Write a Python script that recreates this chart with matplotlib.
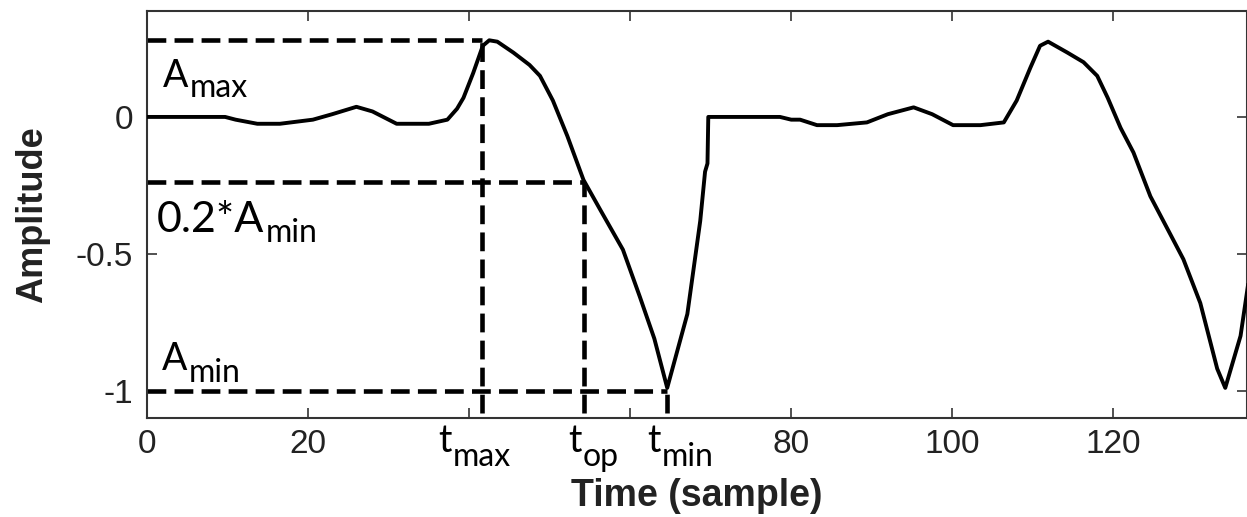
import matplotlib
matplotlib.use("Agg")
import matplotlib.pyplot as plt

plt.rcParams['axes.unicode_minus'] = False

# Signal (time in samples, amplitude)
time = [0, 9.7, 11, 13.7, 16.5, 20.6, 23, 26, 28, 31, 35, 37.3, 38.5, 39.3, 40.5, 41.7,
        42.5, 43.5, 45.5, 47.5, 48.8, 50.4, 52.2, 54.2, 56.3, 59.1, 61.2, 63, 64.6, 67.1,
        68.7, 69.3, 69.6, 69.7, 78.6, 80, 81.1, 83.2, 85.7, 89.4, 92, 95.2, 97.5, 100.1,
        103.5, 106.4, 108.0, 109.7, 110.9, 111.9, 114.3, 116.3, 118, 119.3, 120.9, 122.5,
        124.6, 127.1, 128.7, 130.8, 132.9, 133.9, 135.8, 136.8]
amplitude = [0, 0, -0.01, -0.025, -0.025, -0.01, 0.01, 0.037, 0.02, -0.025, -0.025, -0.01,
             0.03, 0.07, 0.16, 0.26, 0.28, 0.275, 0.235, 0.19, 0.15, 0.06, -0.07, -0.23,
             -0.34, -0.485, -0.657, -0.81, -0.99, -0.72, -0.38, -0.2, -0.17, 0.0, 0.0, -0.01,
             -0.01, -0.03, -0.03, -0.02, 0.01, 0.035, 0.01, -0.03, -0.03, -0.02, 0.06, 0.18,
             0.26, 0.275, 0.235, 0.2, 0.15, 0.07, -0.04, -0.13, -0.29, -0.43, -0.52, -0.68,
             -0.92, -0.99, -0.80, -0.6]

# Reference levels and times
A_max = 0.28
A_op = -0.238
A_min = -1.0
t_max = 41.6
t_op = 54.3
t_min = 64.6

x_ticks = [0, 20, 40, 60, 80, 100, 120]
x_ticklabels = ["0", "20", "", "", "80", "100", "120"]
y_ticks = [-1, -0.5, 0]
y_ticklabels = ["-1", "-0.5", "0"]

fig = plt.figure(figsize=(12.47, 5.17), dpi=100)
ax = fig.add_axes([0.1179, 0.1915, 0.8821, 0.7872])

ax.plot(time, amplitude, color='black', lw=2.8, solid_joinstyle='round', zorder=3)

lw_d = 3.3
dash = (0, (4.1, 1.8))
ybot = -1.08
for lvl, t in [(A_max, t_max), (A_op, t_op), (A_min, t_min)]:
    ax.plot([0, t], [lvl, lvl], color='black', lw=lw_d, linestyle=dash, zorder=2)
    ax.plot([t, t], [ybot, lvl], color='black', lw=lw_d, linestyle=dash, zorder=2)

ax.set_xlim(0, 136.6)
ax.set_ylim(-1.1, 0.387)
ax.set_xticks(x_ticks)
ax.set_xticklabels(x_ticklabels)
ax.set_yticks(y_ticks)
ax.set_yticklabels(y_ticklabels)

for s in ax.spines.values():
    s.set_linewidth(1.5)
    s.set_color('#333333')
ax.tick_params(direction='in', length=7, width=1.2, colors='#333333',
               top=True, right=True, labelsize=24, labelcolor='#222222')
ax.tick_params(axis='x', pad=8)
ax.tick_params(axis='y', pad=10)
for lab in ax.get_xticklabels() + ax.get_yticklabels():
    lab.set_family('Liberation Sans')

ax.set_xlabel('Time (sample)', fontsize=27, fontweight='bold', family='Liberation Sans',
              color='#222222')
ax.xaxis.set_label_coords(0.5, -0.148)
ax.set_ylabel('Amplitude', fontsize=26, fontweight='bold', family='Liberation Sans',
              color='#222222')
ax.yaxis.set_label_coords(-0.088, 0.5)

fam = 'Lato'
sub_fs = 23
labels = [
    ("A", 27, 2.0, 0.109, "max", 0.073),
    ("0.2*A", 31, 1.24, -0.420, "min", -0.456),
    ("A", 27, 1.86, -0.923, "min", -0.967),
    ("t", 27, 36.15, -1.226, "max", -1.277),
    ("t", 27, 52.3, -1.226, "op", -1.277),
    ("t", 27, 62.1, -1.226, "min", -1.277),
]
for m, fs, mx, my, s, sy in labels:
    t_main = ax.text(mx, my, m, fontsize=fs, family=fam, va='baseline', ha='left',
                     color='black', clip_on=False)
    ax.annotate(s, xy=(1.0, sy), xycoords=(t_main, 'data'),
                xytext=(1, 0), textcoords='offset points',
                fontsize=sub_fs, family=fam, va='baseline', ha='left',
                color='black', annotation_clip=False)

fig.savefig('out.png', dpi=100)
